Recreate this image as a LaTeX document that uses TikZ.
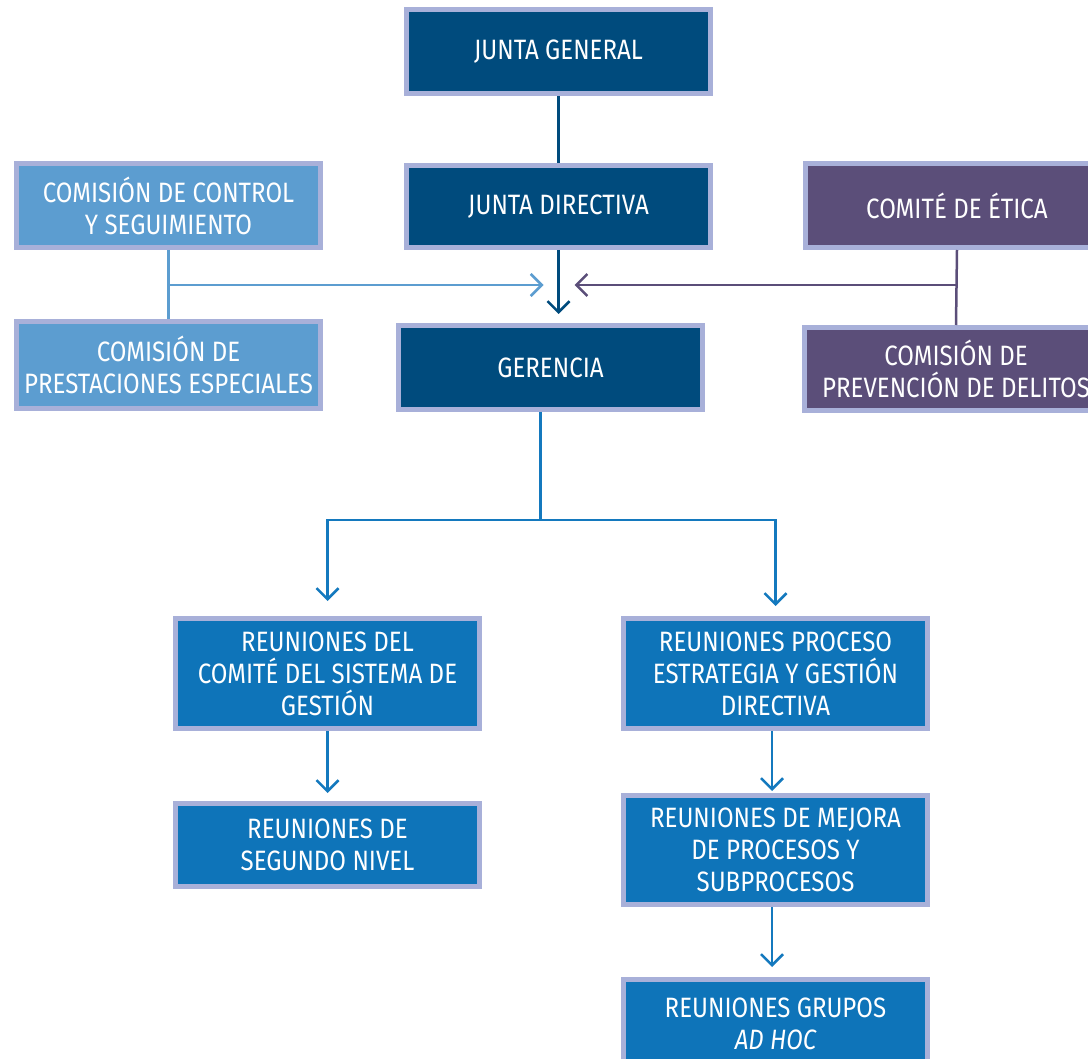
\documentclass[tikz,border=0pt]{standalone}
\usepackage{fontspec}
\setmainfont[FakeStretch=0.86]{Fira Sans}
\usetikzlibrary{arrows.meta,calc}
\definecolor{cdark}{HTML}{004B7D}
\definecolor{clight}{HTML}{5C9DD0}
\definecolor{cpurple}{HTML}{5B4E79}
\definecolor{creu}{HTML}{0E74B9}
\definecolor{cborder}{HTML}{A8B0D9}
\definecolor{cline}{HTML}{1479BE}
\begin{document}
\begin{tikzpicture}[x=1pt,y=-1pt,
  box/.style={draw=cborder,line width=5pt,text=white,align=center,
    font=\fontsize{28}{32}\selectfont,inner sep=0pt,minimum width=304pt},
  dbox/.style={box,fill=cdark},
  lbox/.style={box,fill=clight},
  pbox/.style={box,fill=cpurple},
  rbox/.style={box,fill=creu},
  conn/.style={line width=2.5pt},
  arr/.style={conn,-{Straight Barb[length=11pt,width=22pt,line width=2.5pt]}}]
\useasboundingbox (0,0) rectangle (1088,1059);
\node[dbox,minimum height=84pt] (JG) at (558.5,52) {JUNTA GENERAL};
\node[dbox,minimum height=82pt] (JD) at (558.5,206.5) {JUNTA DIRECTIVA};
\node[lbox,minimum height=84pt] (CC) at (168.5,205.5) {COMISIÓN DE CONTROL\\Y SEGUIMIENTO};
\node[pbox,minimum height=84pt] (CE) at (957,205.5) {COMITÉ DE ÉTICA};
\node[lbox,minimum height=87pt] (CP) at (168.5,365) {COMISIÓN DE\\PRESTACIONES ESPECIALES};
\node[dbox,minimum height=84pt] (GER) at (550.5,367.5) {GERENCIA};
\node[pbox,minimum height=83pt] (CPD) at (956,369) {COMISIÓN DE\\PREVENCIÓN DE DELITOS};
\node[rbox,minimum height=110pt] (RC) at (327.5,673.5) {REUNIONES DEL\\COMITÉ DEL SISTEMA DE\\GESTIÓN};
\node[rbox,minimum height=110pt] (RP) at (775.5,673.5) {REUNIONES PROCESO\\ESTRATEGIA Y GESTIÓN\\DIRECTIVA};
\node[rbox,minimum height=83pt] (RS) at (327.5,845) {REUNIONES DE\\SEGUNDO NIVEL};
\node[rbox,minimum height=109pt] (RM) at (775.5,850) {REUNIONES DE MEJORA\\DE PROCESOS Y\\SUBPROCESOS};
\node[rbox,minimum height=89pt] (RG) at (775.5,1024) {REUNIONES GRUPOS\\\itshape AD HOC};
% top connectors
\coordinate (hy) at (0,285);
\draw[conn,cdark] (JG.south) -- (JD.north);
\draw[arr,cdark,shorten >=9pt] (JD.south) -- (JD.south |- GER.north);
\draw[conn,clight] (CC.south) -- (CP.north);
\draw[arr,clight,shorten >=15pt] (CC.south |- hy) -- (JD.south |- hy);
\draw[conn,cpurple] (CE.south) -- (CPD.north);
\draw[arr,cpurple,shorten >=16pt] (CE.south |- hy) -- (JD.south |- hy);
% gerencia split
\coordinate (gs) at ($(GER.south)+(-10,0)$);
\coordinate (gy) at (0,520);
\draw[conn,cline] (gs) -- (gs |- gy);
\draw[arr,cline,shorten >=15pt] (gs |- gy) -| (RC.north);
\draw[arr,cline,shorten >=10pt] (gs |- gy) -| (RP.north);
\draw[arr,cline,shorten >=8pt] (RC.south) -- (RS.north);
\coordinate (rx) at (772,0);
\draw[arr,cline,shorten >=2pt] (RP.south -| rx) -- (RM.north -| rx);
\draw[arr,cline,shorten >=10pt] (RM.south -| rx) -- (RG.north -| rx);
\end{tikzpicture}
\end{document}
